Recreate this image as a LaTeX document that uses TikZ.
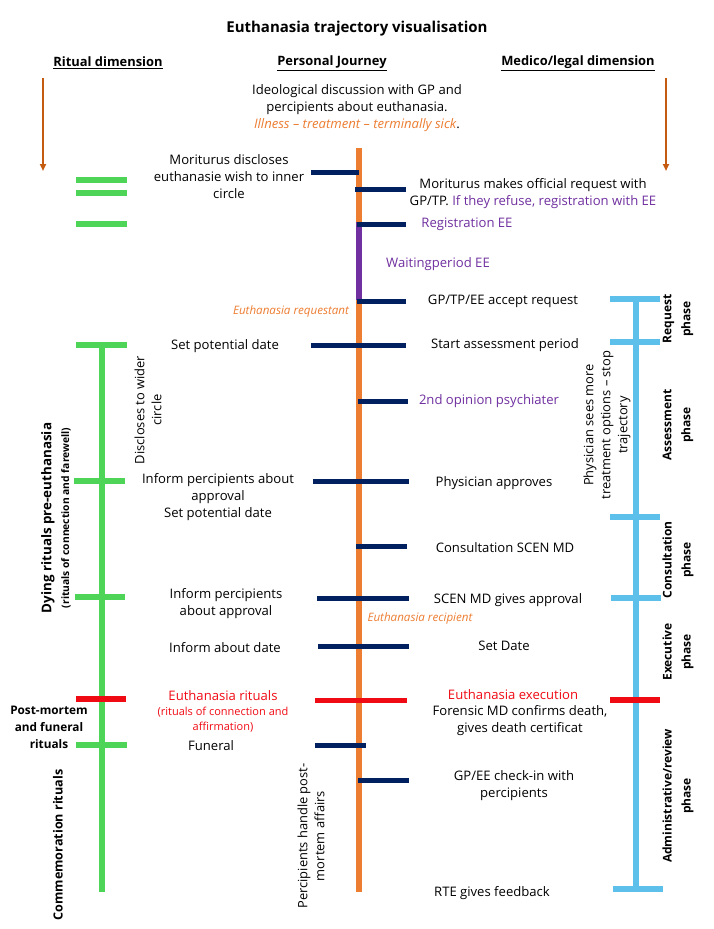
\documentclass[tikz,border=0pt]{standalone}
\usepackage{fontspec}
\setmainfont{Open Sans}
\usetikzlibrary{arrows.meta}
\definecolor{corange}{RGB}{237,125,49}
\definecolor{carrow}{RGB}{197,90,17}
\definecolor{cnavy}{RGB}{0,32,96}
\definecolor{cpurple}{RGB}{112,48,160}
\definecolor{cgreen}{RGB}{78,213,88}
\definecolor{cblue}{RGB}{93,192,235}
\definecolor{cred}{RGB}{240,10,20}
\tikzset{
  txt/.style={inner sep=0pt, align=center, font=\fontsize{13.1}{17}\selectfont},
  hdr/.style={inner sep=0pt, align=center, font=\bfseries\fontsize{12.9}{15}\selectfont},
  phase/.style={inner sep=0pt, align=center, rotate=90, font=\bfseries\fontsize{12}{19}\selectfont},
  rot/.style={inner sep=0pt, align=center, rotate=90, font=\fontsize{12.9}{17}\selectfont},
  note/.style={inner sep=0pt, align=center, font=\itshape\fontsize{11.6}{14}\selectfont, text=corange},
  navytick/.style={draw=cnavy, line width=5pt},
  greenbar/.style={draw=cgreen, line width=6pt},
  bluebar/.style={draw=cblue, line width=6pt},
  redtick/.style={draw=cred, line width=6pt},
  dimarrow/.style={draw=carrow, line width=2pt, -{Triangle[length=7pt,width=6pt]}},
}
\begin{document}
\begin{tikzpicture}[x=1pt,y=-1pt]
\useasboundingbox[fill=white] (0,0) rectangle (713,929);

% title and headers
\node[hdr, font=\bfseries\fontsize{15}{18}\selectfont] (title) at (357,29) {Euthanasia trajectory visualisation};
\node[hdr] (hritual) at (108,63) {\underline{Ritual dimension}};
\node[hdr] (hpersonal) at (332,63) {\underline{Personal Journey}};
\node[hdr] (hmedico) at (578,63) {\underline{Medico/legal dimension}};

% dimension arrows
\coordinate (la1) at (43,78); \coordinate (la2) at (43,171);
\coordinate (ra1) at (666,78); \coordinate (ra2) at (666,171);
\draw[dimarrow] (la1) -- (la2);
\draw[dimarrow] (ra1) -- (ra2);

\node[txt] (ideo) at (357,108) {Ideological discussion with GP and\\percipients about euthanasia.\\{\color{corange}\itshape Illness -- treatment -- terminally sick}.};

% ===== central orange line =====
\draw[draw=corange, line width=6pt] (359,148) -- (359,892);
\draw[draw=cpurple, line width=6pt] (359,222) -- (359,300);

% navy ticks
\draw[navytick] (311,172) -- (359,172);
\draw[navytick] (355,189) -- (406,189);
\draw[navytick] (357,224) -- (406,224);
\draw[navytick] (357,301) -- (406,301);
\draw[navytick] (311,345) -- (406,345);
\draw[navytick] (358,401) -- (408,401);
\draw[navytick] (313,481) -- (409,481);
\draw[navytick] (356,546) -- (407,546);
\draw[navytick] (317,598) -- (409,598);
\draw[navytick] (318,646) -- (409,646);
\draw[redtick, line width=5pt] (315,700) -- (407,700);
\draw[navytick] (315,745) -- (366,745);
\draw[navytick] (358,780) -- (409,780);

% ===== left green =====
\foreach \yy in {180,193,224} \draw[greenbar] (76,\yy) -- (127,\yy);
\draw[greenbar] (102,345) -- (102,892);
\draw[greenbar] (76,345) -- (127,345);
\draw[greenbar] (74,481) -- (125,481);
\draw[greenbar] (75,597) -- (125,597);
\draw[redtick] (76,699) -- (126,699);
\draw[greenbar] (76,745) -- (127,745);

% ===== right blue =====
\draw[bluebar] (636,299) -- (636,889);
\draw[bluebar] (610,299) -- (660,299);
\draw[bluebar] (610,342) -- (660,342);
\draw[bluebar] (610,517) -- (660,517);
\draw[bluebar] (611,598) -- (661,598);
\draw[redtick] (610,700) -- (660,700);
\draw[bluebar] (613,889) -- (663,889);

% ===== left texts =====
\node[txt] (disc) at (229,177) {Moriturus discloses\\euthanasie wish to inner\\circle};
\node[note] (req) at (291,311) {Euthanasia requestant};
\node[txt] (spd) at (225,346) {Set potential date};
\node[txt] (inf1) at (218,497) {Inform percipients about\\approval\\Set potential date};
\node[txt] (inf2) at (226,604) {Inform percipients\\about approval};
\node[txt] (infd) at (225,648) {Inform about date};
\node[txt, text=cred] (eurit) at (223,696) {Euthanasia rituals};
\node[txt, text=cred, font=\fontsize{11}{15}\selectfont] (eurit2) at (223,720) {(rituals of connection and\\affirmation)};
\node[txt] (fun) at (211,746) {Funeral};

\node[rot] (wider) at (148,410) {Discloses to wider\\circle};
\node[phase, font=\bfseries\fontsize{13.4}{17}\selectfont] (dying) at (48,518) {Dying rituals pre-euthanasia};
\node[phase, font=\bfseries\fontsize{10.3}{12}\selectfont] (dying2) at (66,518) {(rituals of connection and farewell)};
\node[hdr, font=\bfseries\fontsize{11.8}{17}\selectfont] (post) at (49,727) {Post-mortem\\and funeral\\rituals};
\node[phase, font=\bfseries\fontsize{12.6}{17}\selectfont] (comm) at (58,845) {Commemoration rituals};
\node[rot] (perc) at (311,836) {Percipients handle post-\\mortem affairs};

% ===== right texts =====
\node[txt] (offreq) at (533,194) {Moriturus makes official request with\\GP/TP. {\color{cpurple}If they refuse, registration with EE}};
\node[txt, text=cpurple] (reg) at (467,224) {Registration EE};
\node[txt, text=cpurple] (wait) at (438,264) {Waitingperiod EE};
\node[txt] (acc) at (503,301) {GP/TP/EE accept request};
\node[txt] (sap) at (505,345) {Start assessment period};
\node[txt, text=cpurple] (opin) at (489,401) {2nd opinion psychiater};
\node[txt] (appr) at (494,483) {Physician approves};
\node[txt] (cons) at (505,548) {Consultation SCEN MD};
\node[txt] (scen) at (508,600) {SCEN MD gives approval};
\node[note] (recip) at (420,618) {Euthanasia recipient};
\node[txt] (setd) at (504,646) {Set Date};
\node[txt, text=cred] (exec) at (513,695) {Euthanasia execution};
\node[txt] (foren) at (520,721) {Forensic MD confirms death,\\gives death certificat};
\node[txt] (check) at (514,786) {GP/EE check-in with\\percipients};
\node[txt] (rte) at (492,893) {RTE gives feedback};

\node[rot] (phys) at (607,425) {Physician sees more\\treatment options -- stop\\trajectory};

\node[phase] (preq) at (678,319) {Request\\phase};
\node[phase] (pass) at (678,425) {Assessment\\phase};
\node[phase] (pcons) at (678,560) {Consultation\\phase};
\node[phase] (pexec) at (678,652) {Executive\\phase};
\node[phase] (padm) at (678,796) {Administrative/review\\phase};
\end{tikzpicture}
\end{document}
